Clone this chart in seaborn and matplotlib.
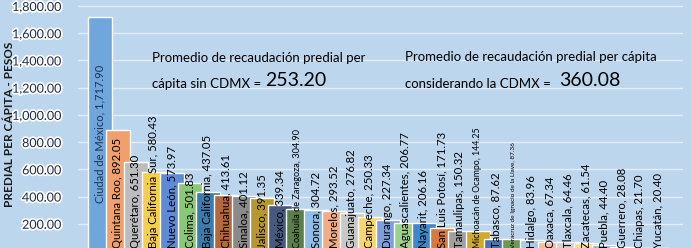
import numpy as np
import pandas as pd
import seaborn as sns
import matplotlib.pyplot as plt
import matplotlib.patheffects as pe
from matplotlib.ticker import FuncFormatter

estados = ['Ciudad de México', 'Quintana Roo', 'Querétaro', 'Baja California Sur',
           'Nuevo León', 'Colima', 'Baja California', 'Chihuahua', 'Sinaloa',
           'Jalisco', 'México', 'Coahuila de Zaragoza', 'Sonora', 'Morelos',
           'Guanajuato', 'Campeche', 'Durango', 'Aguascalientes', 'Nayarit',
           'San Luis Potosí', 'Tamaulipas', 'Michoacán de Ocampo', 'Tabasco',
           'Veracruz de Ignacio de la Llave', 'Hidalgo', 'Oaxaca', 'Tlaxcala',
           'Zacatecas', 'Puebla', 'Guerrero', 'Chiapas', 'Yucatán']
predial = [1717.90, 892.05, 651.30, 580.43, 573.97, 501.83, 437.05, 413.61,
           401.12, 391.35, 339.34, 304.90, 304.72, 293.52, 276.82, 250.33,
           227.34, 206.77, 206.16, 171.73, 150.32, 144.25, 87.62, 87.36,
           83.96, 67.34, 64.46, 61.54, 44.40, 28.08, 21.70, 20.40]

# office-like palette, slightly washed out
colores = ['#6fa6dc', '#f0a06c', '#bdbdbd', '#f4cf4a', '#5f8bd6', '#88c878',
           '#3d7bab', '#b5683c', '#8a8a8a', '#b8982e', '#46597f', '#5c7e4b',
           '#8fbde6', '#f2ad86', '#c8c8c8', '#f7d76a', '#7d9fdc', '#9fd08a',
           '#3f87c8', '#d87a3e', '#a0a0a0', '#d0a92a', '#4d72b3', '#6c9a55',
           '#a8cbe9', '#f5bd9a', '#d2d2d2', '#f8dd82', '#93afe2', '#b2d99f',
           '#5a97d0', '#e08d55']

fuentes = {'Coahuila de Zaragoza': 6.6, 'Michoacán de Ocampo': 6.3,
           'Veracruz de Ignacio de la Llave': 4.6}

df = pd.DataFrame({'estado': estados, 'predial': predial})

sns.set_theme(style='white')
plt.rcParams['font.family'] = ['Lato', 'DejaVu Sans']

fig = plt.figure(figsize=(6.91, 2.48), dpi=100)
fig.patch.set_facecolor('#bcd6ee')
ax = fig.add_axes([78 / 691, 0, (683 - 78) / 691, 1])
ax.set_facecolor('#bcd6ee')

sns.barplot(data=df, x='estado', y='predial', hue='estado', palette=colores,
            legend=False, width=1.3, saturation=1, ax=ax, zorder=2)

ax.set_xlim(-1.22, 32.4)
ax.set_ylim(22, 1844)
ax.set_yticks(np.arange(200, 1801, 200))
ax.yaxis.set_major_formatter(FuncFormatter(lambda v, p: f'{v:,.2f}'))
ax.yaxis.grid(True, color='#e2edf8', linewidth=1.0, zorder=0)
ax.set_axisbelow(True)
ax.set_xticks([])
ax.set_xlabel('')
ax.set_ylabel('')
for s in ax.spines.values():
    s.set_visible(False)
ax.tick_params(axis='y', length=0, pad=12, labelsize=9, labelcolor='#1f2a44')
for t in ax.get_yticklabels():
    t.set_path_effects([pe.withStroke(linewidth=2.5, foreground='white')])

for i, (n, v) in enumerate(zip(estados, predial)):
    if i == 0:
        ax.text(i, v / 2, f'{n}, {v:,.2f}', rotation=90, ha='center', va='center',
                fontsize=8, color='#1f3350', zorder=5)
    else:
        ax.text(i, 20, f'{n}, {v:,.2f}', rotation=90, ha='center', va='bottom',
                fontsize=fuentes.get(n, 8.2), color='black', zorder=5)

fig.text(10 / 691, 124 / 248, 'PREDIAL PER CÁPITA - PESOS', rotation=90,
         ha='center', va='center', fontsize=8.5, fontweight='bold', color='#1a1a1a')

def px(x, y):
    return x / 691, 1 - y / 248

fig.text(*px(152, 58), 'Promedio de recaudación predial per', fontsize=9.5,
         va='center', color='black')
fig.text(*px(152, 84), 'cápita sin CDMX = ', fontsize=9.5, va='center', color='black')
fig.text(*px(265, 81), '253.20', fontsize=14, va='center', color='black')
fig.text(*px(405, 57), 'Promedio de recaudación predial per cápita', fontsize=9.5,
         va='center', color='black')
fig.text(*px(405, 84), 'considerando la CDMX = ', fontsize=9.5, va='center', color='black')
fig.text(*px(559, 81), '360.08', fontsize=14, va='center', color='black')

fig.savefig('out.png', dpi=100)
